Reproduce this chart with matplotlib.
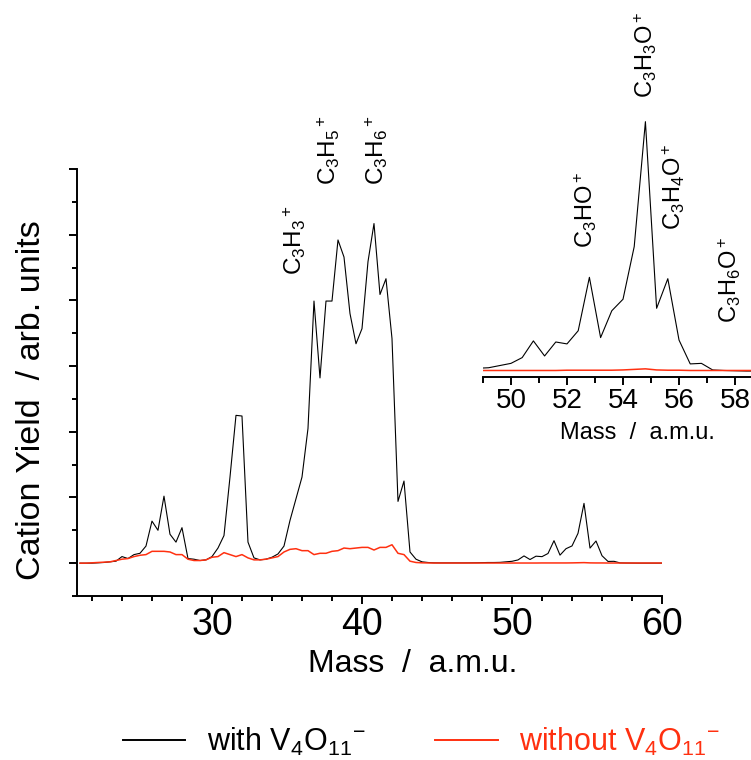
import matplotlib
matplotlib.use("Agg")
import matplotlib.pyplot as plt
from matplotlib.ticker import MultipleLocator
from matplotlib.lines import Line2D

plt.rcParams['font.family'] = ['Liberation Sans', 'DejaVu Sans']
plt.rcParams['mathtext.fontset'] = 'custom'
plt.rcParams['mathtext.rm'] = 'Liberation Sans'
plt.rcParams['mathtext.it'] = 'Liberation Sans'

# mass grid (a.m.u.), sampled every 0.4
mass = [21.2, 21.6, 22.0, 22.4, 22.8, 23.2, 23.6, 24.0, 24.4, 24.8,
        25.2, 25.6, 26.0, 26.4, 26.8, 27.2, 27.6, 28.0, 28.4, 28.8,
        29.2, 29.6, 30.0, 30.4, 30.8, 31.2, 31.6, 32.0, 32.4, 32.8,
        33.2, 33.6, 34.0, 34.4, 34.8, 35.2, 35.6, 36.0, 36.4, 36.8,
        37.2, 37.6, 38.0, 38.4, 38.8, 39.2, 39.6, 40.0, 40.4, 40.8,
        41.2, 41.6, 42.0, 42.4, 42.8, 43.2, 43.6, 44.0, 44.4, 44.8,
        45.2, 45.6, 46.0, 46.4, 46.8, 47.2, 47.6, 48.0, 48.4, 48.8,
        49.2, 49.6, 50.0, 50.4, 50.8, 51.2, 51.6, 52.0, 52.4, 52.8,
        53.2, 53.6, 54.0, 54.4, 54.8, 55.2, 55.6, 56.0, 56.4, 56.8,
        57.2, 57.6, 58.0, 58.4, 58.8, 59.2, 59.6, 60.0]

with_v4o11 = [0.0, 0.0, 0.0, 0.005, 0.01, 0.02, 0.03, 0.10, 0.07, 0.13,
              0.15, 0.26, 0.64, 0.50, 1.02, 0.44, 0.32, 0.54, 0.07, 0.06,
              0.04, 0.05, 0.10, 0.23, 0.42, 1.31, 2.25, 2.24, 0.32, 0.08,
              0.05, 0.06, 0.09, 0.14, 0.26, 0.65, 0.98, 1.31, 2.05, 3.99,
              2.82, 3.99, 3.99, 4.92, 4.66, 3.80, 3.34, 3.57, 4.59, 5.17,
              4.09, 4.33, 3.42, 0.94, 1.25, 0.17, 0.06, 0.02, 0.01, 0.005,
              0.004, 0.004, 0.004, 0.004, 0.004, 0.005, 0.006, 0.008, 0.01, 0.01,
              0.012, 0.02, 0.028, 0.049, 0.11, 0.055, 0.106, 0.099, 0.147, 0.342,
              0.122, 0.22, 0.262, 0.454, 0.91, 0.229, 0.337, 0.113, 0.026, 0.028,
              0.004, 0.002, 0.001, 0.0, 0.0, 0.0, 0.0, 0.0]

without_v4o11 = [0.0, 0.0, 0.005, 0.01, 0.015, 0.02, 0.04, 0.06, 0.07, 0.10,
                 0.12, 0.13, 0.18, 0.18, 0.18, 0.17, 0.13, 0.13, 0.06, 0.04,
                 0.04, 0.05, 0.09, 0.10, 0.16, 0.13, 0.10, 0.13, 0.08, 0.05,
                 0.05, 0.06, 0.08, 0.10, 0.17, 0.21, 0.22, 0.19, 0.19, 0.13,
                 0.15, 0.15, 0.18, 0.19, 0.23, 0.22, 0.23, 0.24, 0.24, 0.20,
                 0.24, 0.24, 0.28, 0.15, 0.13, 0.03, 0.01, 0.005, 0.003, 0.002,
                 0.002, 0.002, 0.002, 0.002, 0.002, 0.002, 0.002, 0.002, 0.002, 0.002,
                 0.002, 0.002, 0.002, 0.002, 0.002, 0.002, 0.002, 0.003, 0.003, 0.003,
                 0.003, 0.003, 0.004, 0.006, 0.008, 0.004, 0.003, 0.003, 0.002, 0.002,
                 0.002, 0.002, 0.002, 0.002, 0.002, 0.002, 0.002, 0.002]

# peak labels: (text, mass, yield) main plot and inset
main_labels = [(r'$\mathregular{C_3H_3{}^+}$', 35.53, 4.38),
               (r'$\mathregular{C_3H_5{}^+}$', 37.8, 5.75),
               (r'$\mathregular{C_3H_6{}^+}$', 41.0, 5.75)]
inset_labels = [(r'$\mathregular{C_3HO^+}$', 52.68, 0.449),
                (r'$\mathregular{C_3H_3O^+}$', 54.82, 0.996),
                (r'$\mathregular{C_3H_4O^+}$', 55.82, 0.515),
                (r'$\mathregular{C_3H_6O^+}$', 57.79, 0.175)]

black = 'black'
red = '#ff3010'

fig = plt.figure(figsize=(7.51, 7.60), dpi=100)
ax = fig.add_axes([0.1025, 0.2158, 0.779, 0.5618])

ax.plot(mass, with_v4o11, color=black, lw=0.8)
ax.plot(mass, without_v4o11, color=red, lw=1.1)
ax.set_xlim(21, 60)
ax.set_ylim(-0.5, 6)
for s in ['top', 'right']:
    ax.spines[s].set_visible(False)
for s in ['left', 'bottom']:
    ax.spines[s].set_linewidth(1.4)
ax.xaxis.set_major_locator(MultipleLocator(10))
ax.xaxis.set_minor_locator(MultipleLocator(2))
ax.yaxis.set_major_locator(MultipleLocator(1))
ax.yaxis.set_minor_locator(MultipleLocator(0.5))
ax.tick_params(which='major', direction='out', length=6, width=1.4, labelsize=27, pad=2)
ax.tick_params(which='minor', direction='out', length=3.5, width=1.4)
ax.tick_params(axis='y', labelleft=False)
ax.set_xlabel('Mass  /  a.m.u.', fontsize=23)
ax.xaxis.set_label_coords(0.574, -0.124)
ax.set_ylabel('Cation Yield  / arb. units', fontsize=24.5)
ax.yaxis.set_label_coords(-0.051, 0.459)

for txt, x, y in main_labels:
    ax.text(x, y, txt, rotation=90, ha='center', va='bottom', fontsize=17.5)

# inset
axi = fig.add_axes([0.6431, 0.5039, 0.3569, 0.4961])
axi.patch.set_visible(False)
axi.plot(mass, with_v4o11, color=black, lw=0.8)
axi.plot(mass, without_v4o11, color=red, lw=1.1)
axi.set_xlim(49, 58.57)
axi.set_ylim(-0.0219, 1.354)
for s in ['top', 'right', 'left']:
    axi.spines[s].set_visible(False)
axi.spines['bottom'].set_linewidth(1.4)
axi.xaxis.set_major_locator(MultipleLocator(2))
axi.xaxis.set_minor_locator(MultipleLocator(1))
axi.tick_params(which='major', direction='out', length=6, width=1.4, labelsize=20, pad=2)
axi.tick_params(which='minor', direction='out', length=4, width=1.4)
axi.set_yticks([])
axi.set_xlabel('Mass  /  a.m.u.', fontsize=17)
axi.xaxis.set_label_coords(0.578, -0.119)

for txt, x, y in inset_labels:
    axi.text(x, y, txt, rotation=90, ha='center', va='bottom', fontsize=17)

handles = [Line2D([], [], color=black, lw=1.4), Line2D([], [], color=red, lw=1.4)]
labels = [r'with V$\mathregular{_4}$O$\mathregular{_{11}{}^{-}}$',
          r'without V$\mathregular{_4}$O$\mathregular{_{11}{}^{-}}$']
leg = fig.legend(handles, labels, loc='center', bbox_to_anchor=(0.561, 0.024), ncol=2,
                 frameon=False, fontsize=22, handlelength=2.05, handletextpad=0.7,
                 columnspacing=2.3)
leg.get_texts()[1].set_color(red)

fig.savefig('out.png', dpi=100)
